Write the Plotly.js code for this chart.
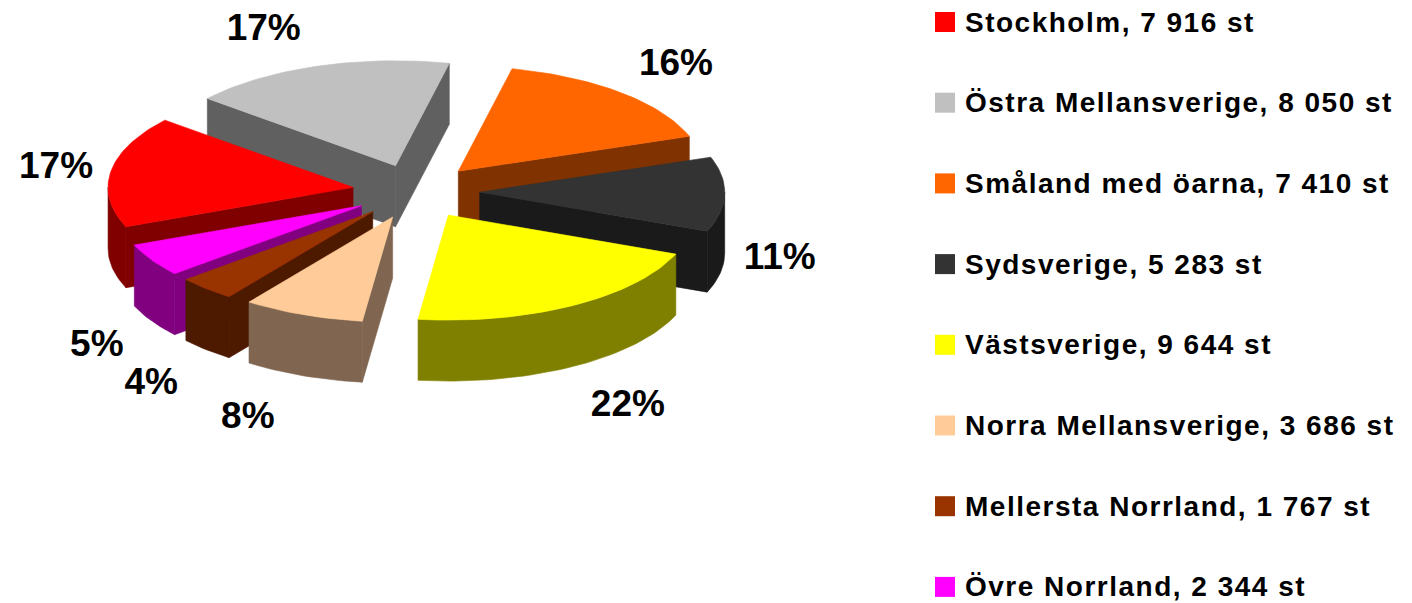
<!DOCTYPE html>
<html><head><meta charset="utf-8">
<script src="https://cdn.plot.ly/plotly-3.0.1.min.js"></script>
<style>
html,body{margin:0;padding:0;background:#fff;}
#chart{width:1412px;height:603px;}
#chart .annotation-text{letter-spacing:1.5px;}
</style>
</head><body><div id="chart"></div>
<script>
// ---- data ----
const categories = ['Stockholm','Östra Mellansverige','Småland med öarna','Sydsverige','Västsverige','Norra Mellansverige','Mellersta Norrland','Övre Norrland'];
const counts = [7916, 8050, 7410, 5283, 9644, 3686, 1767, 2344];
const shareLabels = ['17%','17%','16%','11%','22%','8%','4%','5%'];
const topColors = ['#FF0000','#C0C0C0','#FF6600','#333333','#FFFF00','#FFCC99','#993300','#FF00FF'];
const sideColors = ['#800000','#606060','#803300','#1A1A1A','#808000','#806650','#4D1A00','#800080'];

// ---- 3D pie geometry (pixel space of the full figure) ----
const W = 1412, H = 603;
const CX = 416, CY = 191.6, RX = 245, RY = 105, DEPTH = 61, EXPLODE = 0.26, START = 248;
const FONT = '"Liberation Sans", Arial, sans-serif';

const total = counts.reduce((a, b) => a + b, 0);
const rad = d => d * Math.PI / 180;
let acc = START;
const slices = counts.map((v, i) => {
  const a0 = acc, a1 = acc + v / total * 360; acc = a1;
  const m = (a0 + a1) / 2;
  return {i, a0, a1, m,
    ox: CX + EXPLODE * RX * Math.sin(rad(m)),
    oy: CY - EXPLODE * RY * Math.cos(rad(m))};
});
function rim(s, t, dz) { return [s.ox + RX * Math.sin(rad(t)), s.oy - RY * Math.cos(rad(t)) + (dz || 0)]; }
function arc(s, t0, t1, dz) {
  const n = Math.max(2, Math.ceil(Math.abs(t1 - t0) / 1.5));
  const pts = [];
  for (let k = 0; k <= n; k++) pts.push(rim(s, t0 + (t1 - t0) * k / n, dz));
  return pts;
}
function poly(pts, color) {
  return {type: 'scatter', mode: 'lines', x: pts.map(p => p[0]), y: pts.map(p => p[1]),
    fill: 'toself', fillcolor: color, line: {color: color, width: 0.6},
    hoverinfo: 'skip', showlegend: false};
}

const traces = [];
const order = slices.slice().sort((p, q) => (-Math.cos(rad(p.m))) - (-Math.cos(rad(q.m))));
order.forEach(s => {
  const apex = [s.ox, s.oy], apexB = [s.ox, s.oy + DEPTH];
  const side = sideColors[s.i];
  if (Math.sin(rad(s.a0)) < 0) traces.push(poly([apex, rim(s, s.a0), rim(s, s.a0, DEPTH), apexB, apex], side));
  if (Math.sin(rad(s.a1)) > 0) traces.push(poly([apex, rim(s, s.a1), rim(s, s.a1, DEPTH), apexB, apex], side));
  [-360, 0, 360].forEach(k => {
    const lo = Math.max(s.a0, 90 + k), hi = Math.min(s.a1, 270 + k);
    if (hi > lo) {
      const up = arc(s, lo, hi, 0), dn = arc(s, lo, hi, DEPTH).reverse();
      const pts = up.concat(dn); pts.push(up[0]);
      traces.push(poly(pts, side));
    }
  });
  traces.push(poly([apex].concat(arc(s, s.a0, s.a1, 0), [apex]), topColors[s.i]));
});

// data labels, placed just outside each slice's rim
const clamp = v => Math.max(-1, Math.min(1, v));
const LABEL_DY = 4;
const lab = slices.map(s => {
  const front = -Math.cos(rad(s.m)) > 0;
  const r = rim(s, s.m, front ? DEPTH : 0);
  return [r[0] + 55 * clamp(3 * Math.sin(rad(s.m))), r[1] + 42 * (-Math.cos(rad(s.m))) + LABEL_DY];
});
traces.push({type: 'scatter', mode: 'text', x: lab.map(p => p[0]), y: lab.map(p => p[1]),
  text: shareLabels, textposition: 'middle center',
  textfont: {family: FONT, size: 37, weight: 'bold', color: '#000'},
  hoverinfo: 'skip', showlegend: false});

// legend
const fmt = v => String(v).replace(/\B(?=(\d{3})+(?!\d))/g, ' ');
const LEG_X = 935, LEG_Y0 = 22, LEG_DY = 80.7, KEY = 20;
const shapes = [], annotations = [];
categories.forEach((c, i) => {
  const yc = LEG_Y0 + i * LEG_DY;
  shapes.push({type: 'rect', xref: 'x', yref: 'y', x0: LEG_X, x1: LEG_X + KEY, y0: yc - KEY / 2, y1: yc + KEY / 2,
    fillcolor: topColors[i], line: {width: 0}});
  annotations.push({xref: 'x', yref: 'y', x: LEG_X + KEY + 8, y: yc, xanchor: 'left', yanchor: 'middle', align: 'left',
    text: c + ', ' + fmt(counts[i]) + ' st', showarrow: false,
    font: {family: FONT, size: 28, weight: 'bold', color: '#000'}});
});

const layout = {
  width: W, height: H, margin: {l: 0, r: 0, t: 0, b: 0, pad: 0},
  paper_bgcolor: '#fff', plot_bgcolor: '#fff', showlegend: false,
  xaxis: {range: [0, W], visible: false, fixedrange: true},
  yaxis: {range: [H, 0], visible: false, fixedrange: true},
  shapes: shapes, annotations: annotations
};
Plotly.newPlot('chart', traces, layout, {staticPlot: true, displayModeBar: false});
</script>
</body></html>
